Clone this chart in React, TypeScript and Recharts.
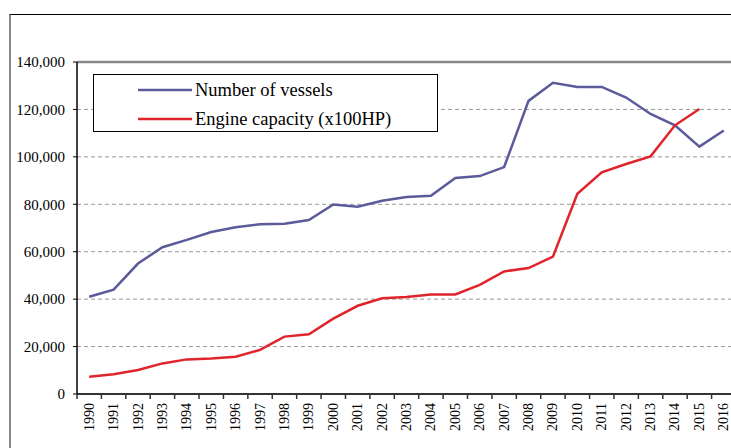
import React from 'react';
import { LineChart, Line, XAxis, YAxis, CartesianGrid, ReferenceLine, Legend } from 'recharts';

const years = [1990, 1991, 1992, 1993, 1994, 1995, 1996, 1997, 1998, 1999, 2000, 2001, 2002, 2003, 2004, 2005, 2006, 2007, 2008, 2009, 2010, 2011, 2012, 2013, 2014, 2015, 2016];
const vessels = [41000, 44000, 55000, 61900, 65000, 68300, 70300, 71600, 71800, 73400, 79900, 79000, 81500, 83100, 83600, 91100, 91900, 95700, 123600, 131200, 129500, 129500, 125000, 118100, 113300, 104300, 111100];
const engine: (number | null)[] = [7300, 8300, 10100, 12900, 14600, 15000, 15700, 18600, 24200, 25200, 31800, 37200, 40400, 40900, 42000, 42000, 46000, 51700, 53100, 57900, 84400, 93500, 97000, 100200, 113300, 120200, null];
const yTicks = [0, 20000, 40000, 60000, 80000, 100000, 120000, 140000];
const seriesNames = ['Number of vessels', 'Engine capacity (x100HP)'];
const colors = ['#5B5B9A', '#E0242C'];

const data = years.map((year, i) => ({ year, vessels: vessels[i], engine: engine[i] }));
const xTicks: number[] = [];
years.forEach((y) => {
  xTicks.push(y - 0.5, y);
});
xTicks.push(years[years.length - 1] + 0.5);

const FONT = '"Liberation Serif", "Times New Roman", serif';

const XTick = (props: any) => {
  const { x, y, payload } = props;
  const v = payload.value;
  if (!Number.isInteger(v)) {
    return <line x1={x} x2={x} y1={y - 9} y2={y - 4} stroke="#333" strokeWidth={1.5} />;
  }
  return (
    <text
      x={x}
      y={y}
      transform={`rotate(-90 ${x} ${y})`}
      textAnchor="end"
      dominantBaseline="central"
      fontSize={14}
      fontFamily={FONT}
      fill="#000"
    >
      {v}
    </text>
  );
};

const LegendBox = (props: any) => {
  const payload = [...(props.payload || [])].sort(
    (a: any, b: any) => seriesNames.indexOf(a.value) - seriesNames.indexOf(b.value)
  );
  return (
    <div
      style={{
        width: 345,
        height: 58,
        border: '1px solid #000',
        boxSizing: 'border-box',
        background: '#fff',
        position: 'relative',
        fontFamily: FONT,
        fontSize: 18.5,
        color: '#000',
      }}
    >
      {payload.map((p: any, i: number) => (
        <div
          key={i}
          style={{ position: 'absolute', left: 44, top: 4 + i * 29, height: 22, display: 'flex', alignItems: 'center', whiteSpace: 'nowrap' }}
        >
          <svg width={54} height={4} style={{ marginRight: 3 }}>
            <line x1={0} x2={54} y1={2} y2={2} stroke={p.color} strokeWidth={2.5} />
          </svg>
          <span>{p.value}</span>
        </div>
      ))}
    </div>
  );
};

export default function App() {
  return (
    <div style={{ position: 'absolute', left: 0, top: 0, width: 731, height: 448, overflow: 'hidden', background: '#fff' }}>
      <div
        style={{
          position: 'absolute',
          left: 9,
          top: 14,
          width: 800,
          height: 500,
          borderTop: '1px solid #000',
          borderLeft: '2px solid #888',
        }}
      />
      <div style={{ position: 'absolute', left: 0, top: 0 }}>
        <LineChart width={740} height={448} data={data} margin={{ top: 62, right: 4, left: 17, bottom: 14 }}>
          <CartesianGrid vertical={false} stroke="#9a9a9a" strokeDasharray="4 3" strokeWidth={1} />
          <XAxis
            dataKey="year"
            type="number"
            domain={[1989.5, 2016.5]}
            ticks={xTicks}
            interval={0}
            tickLine={false}
            tickSize={5}
            tickMargin={4}
            height={40}
            axisLine={{ stroke: '#333', strokeWidth: 2 }}
            tick={<XTick />}
          />
          <YAxis
            domain={[0, 140000]}
            ticks={yTicks}
            interval={0}
            width={60}
            tickSize={4}
            tickMargin={8}
            tickFormatter={(v: number) => v.toLocaleString('en-US')}
            tick={{ fontSize: 15, fontFamily: FONT, fill: '#000' }}
            tickLine={{ stroke: '#000' }}
            axisLine={{ stroke: '#000', strokeWidth: 1.5 }}
          />
          <ReferenceLine y={140000} stroke="#888" strokeWidth={2.5} />
          <Legend
            layout="vertical"
            verticalAlign="middle"
            align="center"
            wrapperStyle={{ left: 93, top: 74, width: 345, height: 58 }}
            content={<LegendBox />}
          />
          <Line
            type="linear"
            dataKey="vessels"
            name={seriesNames[0]}
            stroke={colors[0]}
            strokeWidth={2.5}
            dot={false}
            isAnimationActive={false}
          />
          <Line
            type="linear"
            dataKey="engine"
            name={seriesNames[1]}
            stroke={colors[1]}
            strokeWidth={2.5}
            dot={false}
            isAnimationActive={false}
          />
        </LineChart>
      </div>
    </div>
  );
}
